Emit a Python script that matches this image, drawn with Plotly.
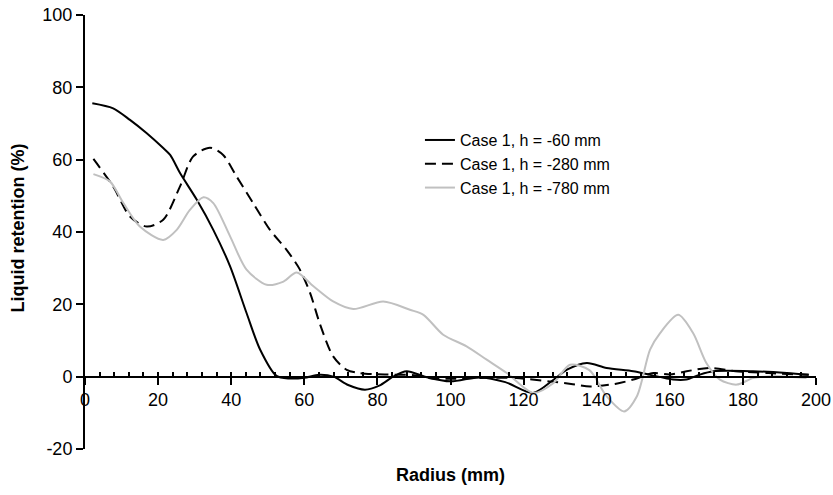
import plotly.graph_objects as go

# Case 1, h = -60 mm
x_h60 = [2, 7.7, 12.3, 16.9, 21.4, 23.3, 26, 30.6, 35.1, 39.7, 44.2, 47.9, 52.4, 56, 60, 64, 68, 72, 76.6, 80.5, 84.3, 88, 93, 100, 108, 115, 122.6, 128, 132, 137.3, 142.7, 150, 154.6, 160.9, 164.5, 168, 171.9, 182.8, 192, 198]
y_h60 = [75.6, 74.2, 71, 67.3, 63.2, 61.3, 56.3, 48.9, 40.6, 30.5, 17.6, 7.5, 0.2, -0.5, -0.3, 0.5, 0, -2.3, -3.6, -2.5, 0, 1.5, 0, -1.3, -0.2, -1.5, -4.5, -1, 2, 3.8, 2.4, 1.5, 0.5, -0.8, -0.8, 0.5, 1.5, 1.5, 1, 0.5]

# Case 1, h = -280 mm
x_h280 = [2.3, 7.7, 12.3, 16.9, 21.4, 26, 29.6, 34.2, 37.8, 41.5, 46, 50.6, 55.2, 58.8, 61.6, 64.3, 67.9, 71.6, 75.2, 82, 90, 95, 100, 110, 118, 127, 133, 138.2, 145, 150, 155.5, 160, 164.6, 171, 178, 187, 198]
y_h280 = [60.2, 52.6, 44.3, 41.5, 43.4, 52.6, 60.9, 63.3, 61.3, 55.3, 48, 40.6, 35, 29.6, 23.1, 14.5, 5.6, 1.9, 1, 0.6, 0.4, -0.5, -0.6, -0.3, -0.4, -1.3, -2, -2.7, -2, -0.8, 1, 0.6, 1.5, 2.4, 1.5, 1, 0.5]

# Case 1, h = -780 mm
x_h780 = [2.3, 6.8, 10.5, 15, 21.4, 25.1, 28.7, 32.4, 35.1, 39.7, 44.2, 49.7, 54.3, 57.9, 62.5, 67.9, 73.4, 81.6, 88.9, 92.6, 98, 104.4, 109.9, 115.4, 122.7, 128.1, 132.7, 138, 142.7, 147.5, 151, 154.6, 157.3, 162.3, 166.4, 170, 173.7, 178.3, 182.8, 189.2, 197.4]
y_h780 = [56, 54, 48, 41.5, 37.8, 40.6, 46.1, 49.6, 48, 38.8, 29.6, 25.4, 26.3, 28.8, 25, 20.8, 18.7, 20.8, 18.5, 17.1, 11.6, 8.4, 4.7, 1, -4.5, -1.8, 3.3, 1.8, -5.4, -9.6, -5.4, 7.5, 12, 17.1, 12, 3.8, -0.8, -2.2, -0.4, 0.1, -0.4]

names = ["Case 1, h = -60 mm", "Case 1, h = -280 mm", "Case 1, h = -780 mm"]

x_ticks = [0, 20, 40, 60, 80, 100, 120, 140, 160, 180, 200]
y_ticks = [-20, 0, 20, 40, 60, 80, 100]

FONT = "Liberation Sans, Arial, sans-serif"

fig = go.Figure()
fig.add_trace(go.Scatter(x=x_h60, y=y_h60, mode="lines", name=names[0],
                         line=dict(color="black", width=2, shape="spline", smoothing=0.8)))
fig.add_trace(go.Scatter(x=x_h280, y=y_h280, mode="lines", name=names[1],
                         line=dict(color="black", width=2, dash="11px,6px", shape="spline", smoothing=0.8)))
fig.add_trace(go.Scatter(x=x_h780, y=y_h780, mode="lines", name=names[2],
                         line=dict(color="#c0c0c0", width=2, shape="spline", smoothing=0.8)))
# invisible trace to activate the minor-tick overlay axis
fig.add_trace(go.Scatter(x=[0, 200], y=[0, 0], mode="lines", xaxis="x2",
                         line=dict(width=0), showlegend=False, hoverinfo="skip"))

fig.update_layout(
    width=833, height=495,
    margin=dict(l=85, r=17, t=15, b=46, pad=0, autoexpand=False),
    paper_bgcolor="white", plot_bgcolor="white",
    font=dict(family=FONT, size=18, color="black"),
    showlegend=True,
    legend=dict(x=0.4582, y=0.751, xanchor="left", yanchor="top",
                bgcolor="rgba(0,0,0,0)", font=dict(size=16, family=FONT),
                tracegroupgap=0, itemwidth=30),
    xaxis=dict(range=[0, 200], tickvals=x_ticks, ticktext=[str(v) for v in x_ticks],
               showgrid=False, zeroline=False, showline=True, linecolor="black", linewidth=2,
               ticks="outside", ticklen=7, tickwidth=2, tickcolor="black",
               anchor="free", position=1/6, tickfont=dict(size=18, family=FONT),
               ticklabeloverflow="allow", automargin=False),
    xaxis2=dict(range=[0, 200], overlaying="x", anchor="free", position=1/6,
                tickmode="linear", tick0=0, dtick=4, ticks="inside", ticklen=5,
                tickwidth=2, tickcolor="black", showticklabels=False,
                showgrid=False, zeroline=False, showline=False, automargin=False),
    yaxis=dict(range=[-20, 100], tickvals=y_ticks, ticktext=[str(v) for v in y_ticks],
               showgrid=False, zeroline=False, showline=True, linecolor="black", linewidth=2,
               ticks="outside", ticklen=7, tickwidth=2, tickcolor="black",
               tickfont=dict(size=18, family=FONT), ticklabeloverflow="allow",
               automargin=False),
    annotations=[
        dict(text="<b>Radius (mm)</b>", x=0.5, y=-0.06, xref="paper", yref="paper",
             xanchor="center", yanchor="middle", showarrow=False, font=dict(size=18, family=FONT)),
        dict(text="<b>Liquid retention (%)</b>", x=-0.092, y=0.51, xref="paper", yref="paper",
             xanchor="center", yanchor="middle", textangle=-90, showarrow=False,
             font=dict(size=18, family=FONT)),
    ],
)

fig.write_html("out.html", config={"displayModeBar": False},
               post_script="document.body.style.margin='0px';")
